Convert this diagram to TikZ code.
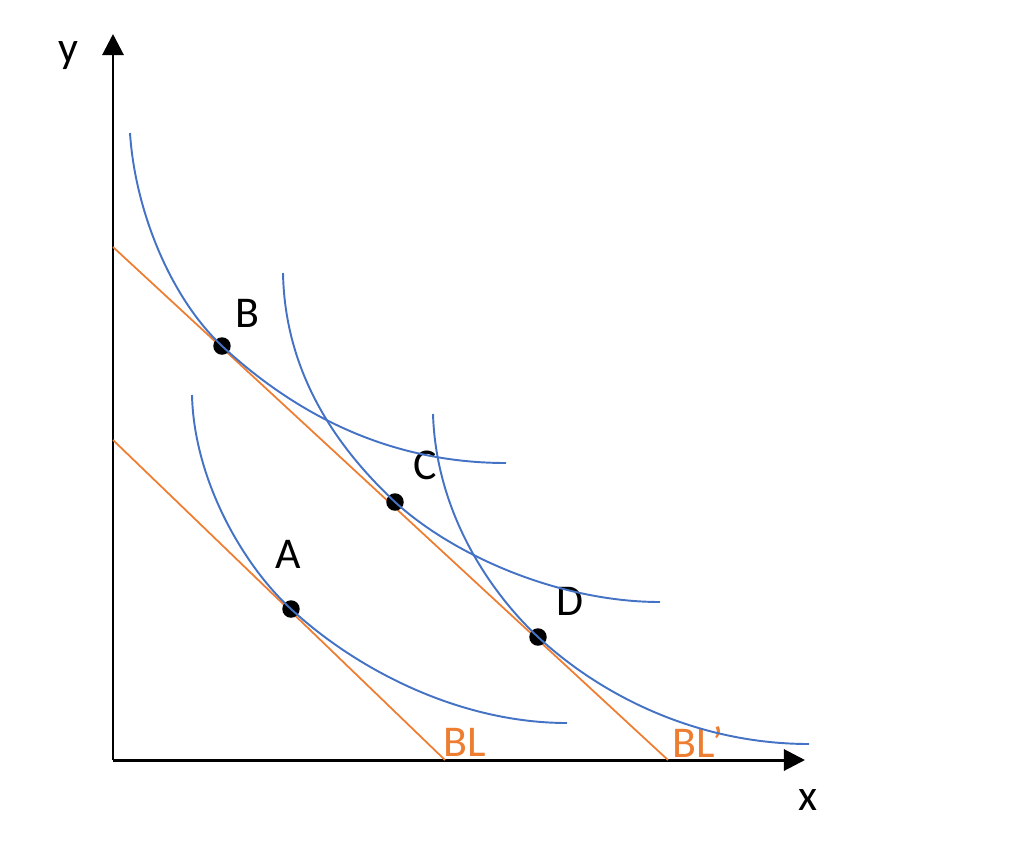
\documentclass[tikz,border=0pt]{standalone}
\usepackage{fontspec}
\setmainfont{Carlito}
\usepackage{xcolor}
\usetikzlibrary{arrows.meta}
\definecolor{icblue}{HTML}{4472C4}
\definecolor{blorange}{HTML}{ED7D31}

\begin{document}
\begin{tikzpicture}[x=0.02cm,y=-0.02cm,
  axis/.style={line width=1.7pt,-{Triangle[length=12pt,width=12pt]}},
  budget/.style={blorange,line width=1pt},
  indiff/.style={icblue,line width=1.1pt},
  bundle/.style={circle,fill=black,inner sep=0pt,minimum size=0.35cm},
  lbl/.style={font=\fontsize{25}{29}\selectfont}]
\useasboundingbox (0,0) rectangle (1036,840);
% axes
\coordinate (O) at (113,760);
\coordinate (ytop) at (113,34);
\coordinate (xend) at (805,760);
\draw[axis] (O) -- (ytop);
\draw[axis] (O) -- (xend);
\node[lbl] (ylab) at (68,56) {y};
\node[lbl] (xlab) at (808,800) {x};
% budget lines
\coordinate (bl0) at (113,440);
\coordinate (bl1) at (445,760);
\coordinate (blp0) at (113,247);
\coordinate (blp1) at (668,760);
\draw[budget] (bl0) -- (bl1);
\draw[budget] (blp0) -- (blp1);
\node[lbl,text=blorange] (bllab) at (465,742) {BL};
\node[lbl,text=blorange] (blplab) at (698,742) {BL’};
% bundles
\node[bundle] (B) at (222,346) {};
\node[bundle] (C) at (395,502) {};
\node[bundle] (D) at (538,637) {};
\node[bundle] (A) at (291,609) {};
\node[lbl] (Blab) at (247,313) {B};
\node[lbl] (Clab) at (425,465) {C};
\node[lbl] (Dlab) at (570,601) {D};
\node[lbl] (Alab) at (288,554) {A};
% indifference curves
\draw[indiff] (130,133) .. controls (135,210) and (170,297) .. (B.center)
  .. controls (302,420) and (396,463) .. (506,463);
\draw[indiff] (283,273) .. controls (285,380) and (344,454) .. (C.center)
  .. controls (454,556) and (560,602) .. (660,602);
\draw[indiff] (433,414) .. controls (436,510) and (487,589) .. (D.center)
  .. controls (604,698) and (700,744) .. (809,744);
\draw[indiff] (192,395) .. controls (194,480) and (243,565) .. (A.center)
  .. controls (357,670) and (460,723) .. (567,723);
\end{tikzpicture}
\end{document}
